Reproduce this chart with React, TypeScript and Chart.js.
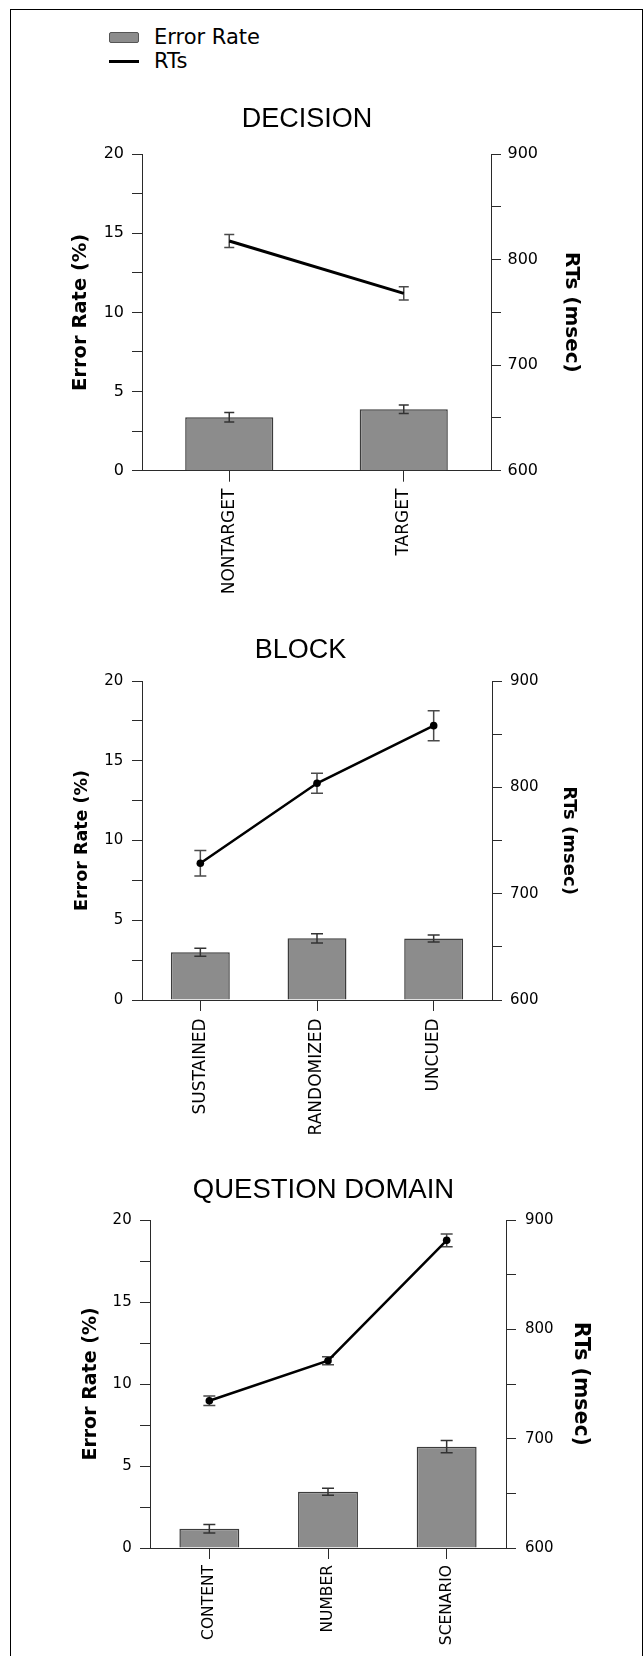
import React, { useEffect, useRef } from 'react';
import { Chart, registerables } from 'chart.js';

Chart.register(...registerables);
Chart.defaults.font.family = "'DejaVu Sans', sans-serif";
Chart.defaults.color = '#000';

// ---------------- DATA ----------------
const decisionCategories = ['NONTARGET', 'TARGET'];
const decisionErrorRate = [3.37, 3.88];
const decisionErrorRateSE = [0.3, 0.27];
const decisionRT = [817.6, 768];
const decisionRTSE = [6.2, 6.3];

const blockCategories = ['SUSTAINED', 'RANDOMIZED', 'UNCUED'];
const blockErrorRate = [3.0, 3.87, 3.85];
const blockErrorRateSE = [0.25, 0.29, 0.22];
const blockRT = [728.6, 803.8, 858];
const blockRTSE = [11.9, 9.4, 14.1];

const domainCategories = ['CONTENT', 'NUMBER', 'SCENARIO'];
const domainErrorRate = [1.18, 3.43, 6.18];
const domainErrorRateSE = [0.26, 0.22, 0.37];
const domainRT = [734.7, 771.3, 881.4];
const domainRTSE = [4.3, 3.7, 5.8];

const errorRateLabels = [0, 5, 10, 15, 20];
const rtLabels = [600, 700, 800, 900];

const legendErrorRate = 'Error Rate';
const legendRT = 'RTs';
const leftAxisTitle = 'Error Rate (%)';
const rightAxisTitle = 'RTs (msec)';

// ---------------- STYLE ----------------
const AXIS = '#2a2a2a';
const BAR_FILL = '#8c8c8c';
const BAR_BORDER = '#3c3c3c';

type Spec = {
  title: string;
  categories: string[];
  err: number[];
  errSE: number[];
  rt: number[];
  rtSE: number[];
  box: { left: number; top: number; width: number; height: number };
  plot: { left: number; right: number; top: number; bottom: number };
  titleY: number;
  titleSize: number;
  leftTitleX: number;
  leftTitleSize: number;
  rightTitleX: number;
  rightTitleSize: number;
  tickSize: number;
  leftPad: number;
  rightPad: number;
  xSize: number;
  xPad: number;
  lineWidth: number;
  pointRadius: number;
  cap: number;
};

const specs: Spec[] = [
  {
    title: 'DECISION',
    categories: decisionCategories,
    err: decisionErrorRate,
    errSE: decisionErrorRateSE,
    rt: decisionRT,
    rtSE: decisionRTSE,
    box: { left: 10, top: 90, width: 594, height: 520 },
    plot: { left: 142, right: 491, top: 154, bottom: 470.7 },
    titleY: 119.7,
    titleSize: 27,
    leftTitleX: 81,
    leftTitleSize: 19.5,
    rightTitleX: 571,
    rightTitleSize: 20,
    tickSize: 16,
    leftPad: 8,
    rightPad: 6.5,
    xSize: 17,
    xPad: 7,
    lineWidth: 3,
    pointRadius: 0,
    cap: 5,
  },
  {
    title: 'BLOCK',
    categories: blockCategories,
    err: blockErrorRate,
    errSE: blockErrorRateSE,
    rt: blockRT,
    rtSE: blockRTSE,
    box: { left: 10, top: 620, width: 581, height: 520 },
    plot: { left: 142, right: 492, top: 681, bottom: 1000 },
    titleY: 650.2,
    titleSize: 27,
    leftTitleX: 82,
    leftTitleSize: 17.5,
    rightTitleX: 568.7,
    rightTitleSize: 18,
    tickSize: 15,
    leftPad: 8.7,
    rightPad: 8,
    xSize: 17,
    xPad: 7.3,
    lineWidth: 2.5,
    pointRadius: 3.8,
    cap: 6,
  },
  {
    title: 'QUESTION DOMAIN',
    categories: domainCategories,
    err: domainErrorRate,
    errSE: domainErrorRateSE,
    rt: domainRT,
    rtSE: domainRTSE,
    box: { left: 10, top: 1150, width: 627, height: 506 },
    plot: { left: 150, right: 506, top: 1220, bottom: 1548 },
    titleY: 1190.9,
    titleSize: 27.5,
    leftTitleX: 91.2,
    leftTitleSize: 19,
    rightTitleX: 580,
    rightTitleSize: 20.5,
    tickSize: 15,
    leftPad: 8.3,
    rightPad: 9,
    xSize: 15.5,
    xPad: 6,
    lineWidth: 2.5,
    pointRadius: 3.8,
    cap: 6,
  },
];

// ---------------- ERROR BARS PLUGIN ----------------
function drawErrorBars(chart: any, meta: any, ds: any) {
  const scale = chart.scales[meta.yAxisID];
  const ctx = chart.ctx;
  ctx.save();
  ctx.strokeStyle = ds.errorColor;
  ctx.lineWidth = 1.5;
  meta.data.forEach((el: any, i: number) => {
    const v = ds.data[i];
    const e = ds.errors[i];
    const yTop = scale.getPixelForValue(v + e);
    const yBot = scale.getPixelForValue(v - e);
    const x = el.x;
    const hw = ds.capHalfWidth;
    ctx.beginPath();
    ctx.moveTo(x, yTop);
    ctx.lineTo(x, yBot);
    ctx.moveTo(x - hw, yTop);
    ctx.lineTo(x + hw, yTop);
    ctx.moveTo(x - hw, yBot);
    ctx.lineTo(x + hw, yBot);
    ctx.stroke();
  });
  ctx.restore();
}

const errorBarPlugin = {
  id: 'errorBars',
  beforeDatasetDraw(chart: any, args: any) {
    const ds = chart.data.datasets[args.index];
    if (ds.type === 'line') drawErrorBars(chart, args.meta, ds);
  },
  afterDatasetDraw(chart: any, args: any) {
    const ds = chart.data.datasets[args.index];
    if (ds.type !== 'line') drawErrorBars(chart, args.meta, ds);
  },
};

function buildConfig(s: Spec): any {
  const cRight = s.box.left + s.box.width;
  const cBottom = s.box.top + s.box.height;
  const tLH = s.titleSize * 1.2;
  const tPadTop = s.titleY - s.box.top - tLH / 2;
  const tPadBottom = s.plot.top - s.box.top - tPadTop - tLH;
  const lLH = s.leftTitleSize * 1.2;
  const rLH = s.rightTitleSize * 1.2;
  const axisGrid = (len: number) => ({
    display: true,
    drawOnChartArea: false,
    drawTicks: true,
    tickLength: len,
    color: AXIS,
    lineWidth: 1,
  });
  return {
    type: 'bar',
    data: {
      labels: s.categories,
      datasets: [
        {
          type: 'line',
          label: legendRT,
          data: s.rt,
          errors: s.rtSE,
          errorColor: '#4a4a4a',
          capHalfWidth: s.cap,
          yAxisID: 'y1',
          borderColor: '#000',
          backgroundColor: '#000',
          borderWidth: s.lineWidth,
          pointRadius: s.pointRadius,
          pointBorderWidth: 0,
          pointBackgroundColor: '#000',
          tension: 0,
          order: 0,
        },
        {
          type: 'bar',
          label: legendErrorRate,
          data: s.err,
          errors: s.errSE,
          errorColor: '#333',
          capHalfWidth: s.cap,
          yAxisID: 'y',
          backgroundColor: BAR_FILL,
          borderColor: BAR_BORDER,
          borderWidth: 1.5,
          barPercentage: 0.505,
          categoryPercentage: 1,
          order: 1,
        },
      ],
    },
    options: {
      responsive: false,
      animation: false,
      events: [],
      layout: { padding: 0 },
      plugins: {
        legend: { display: false },
        tooltip: { enabled: false },
        title: {
          display: true,
          text: s.title,
          color: '#000',
          font: { family: "'Liberation Sans', Arial, sans-serif", size: s.titleSize, weight: 'normal', lineHeight: 1.2 },
          padding: { top: tPadTop, bottom: tPadBottom },
        },
      },
      scales: {
        x: {
          type: 'category',
          offset: true,
          grid: { ...axisGrid(11), offset: false },
          border: { display: true, color: AXIS, width: 1 },
          ticks: {
            minRotation: 90,
            maxRotation: 90,
            autoSkip: false,
            padding: s.xPad,
            color: '#000',
            font: { size: s.xSize },
          },
          afterFit: (sc: any) => {
            sc.height = cBottom - s.plot.bottom;
          },
        },
        y: {
          type: 'linear',
          position: 'left',
          min: 0,
          max: 20,
          grid: axisGrid(10),
          border: { display: true, color: AXIS, width: 1 },
          ticks: {
            stepSize: 2.5,
            autoSkip: false,
            padding: s.leftPad,
            color: '#000',
            font: { size: s.tickSize },
            callback: (v: any) => (errorRateLabels.includes(Number(v)) ? String(v) : ''),
          },
          title: {
            display: true,
            text: leftAxisTitle,
            color: '#000',
            font: { size: s.leftTitleSize, weight: 'bold', lineHeight: 1.2 },
            padding: { top: s.leftTitleX - s.box.left - lLH / 2, bottom: 0 },
          },
          afterFit: (sc: any) => {
            sc.width = s.plot.left - s.box.left;
          },
        },
        y1: {
          type: 'linear',
          position: 'right',
          min: 600,
          max: 900,
          grid: axisGrid(10),
          border: { display: true, color: AXIS, width: 1 },
          ticks: {
            stepSize: 50,
            autoSkip: false,
            padding: s.rightPad,
            color: '#000',
            font: { size: s.tickSize },
            callback: (v: any) => (rtLabels.includes(Number(v)) ? String(v) : ''),
          },
          title: {
            display: true,
            text: rightAxisTitle,
            color: '#000',
            font: { size: s.rightTitleSize, weight: 'bold', lineHeight: 1.2 },
            padding: { top: cRight - s.rightTitleX - rLH / 2, bottom: 0 },
          },
          afterFit: (sc: any) => {
            sc.width = cRight - s.plot.right;
          },
        },
      },
    },
    plugins: [errorBarPlugin],
  };
}

function ChartPanel({ spec }: { spec: Spec }) {
  const ref = useRef<HTMLCanvasElement>(null);
  useEffect(() => {
    const chart = new Chart(ref.current as HTMLCanvasElement, buildConfig(spec));
    return () => chart.destroy();
  }, [spec]);
  const b = spec.box;
  return (
    <canvas
      ref={ref}
      width={b.width}
      height={b.height}
      style={{ position: 'absolute', left: b.left, top: b.top, width: b.width, height: b.height }}
    />
  );
}

const legendFont = "'DejaVu Sans', sans-serif";

export default function App() {
  return (
    <div style={{ position: 'absolute', left: 0, top: 0, width: 644, height: 1656, overflow: 'hidden', background: '#fff' }}>
      <div
        style={{
          position: 'absolute',
          left: 10,
          top: 9,
          width: 633,
          height: 1700,
          boxSizing: 'border-box',
          border: '1px solid #000',
        }}
      />
      {/* legend */}
      <div
        style={{
          position: 'absolute',
          left: 109,
          top: 32,
          width: 30,
          height: 11,
          boxSizing: 'border-box',
          background: BAR_FILL,
          border: '1px solid #555',
          borderRadius: 2,
        }}
      />
      <div
        style={{
          position: 'absolute',
          left: 154,
          top: 27.3,
          fontFamily: legendFont,
          fontSize: 21,
          lineHeight: '21px',
          color: '#000',
          whiteSpace: 'nowrap',
        }}
      >
        {legendErrorRate}
      </div>
      <div style={{ position: 'absolute', left: 109, top: 59.5, width: 30, height: 3, background: '#000' }} />
      <div
        style={{
          position: 'absolute',
          left: 154,
          top: 50.5,
          fontFamily: legendFont,
          fontSize: 21,
          lineHeight: '21px',
          color: '#000',
          whiteSpace: 'nowrap',
        }}
      >
        {legendRT}
      </div>
      {specs.map((s) => (
        <ChartPanel key={s.title} spec={s} />
      ))}
    </div>
  );
}
